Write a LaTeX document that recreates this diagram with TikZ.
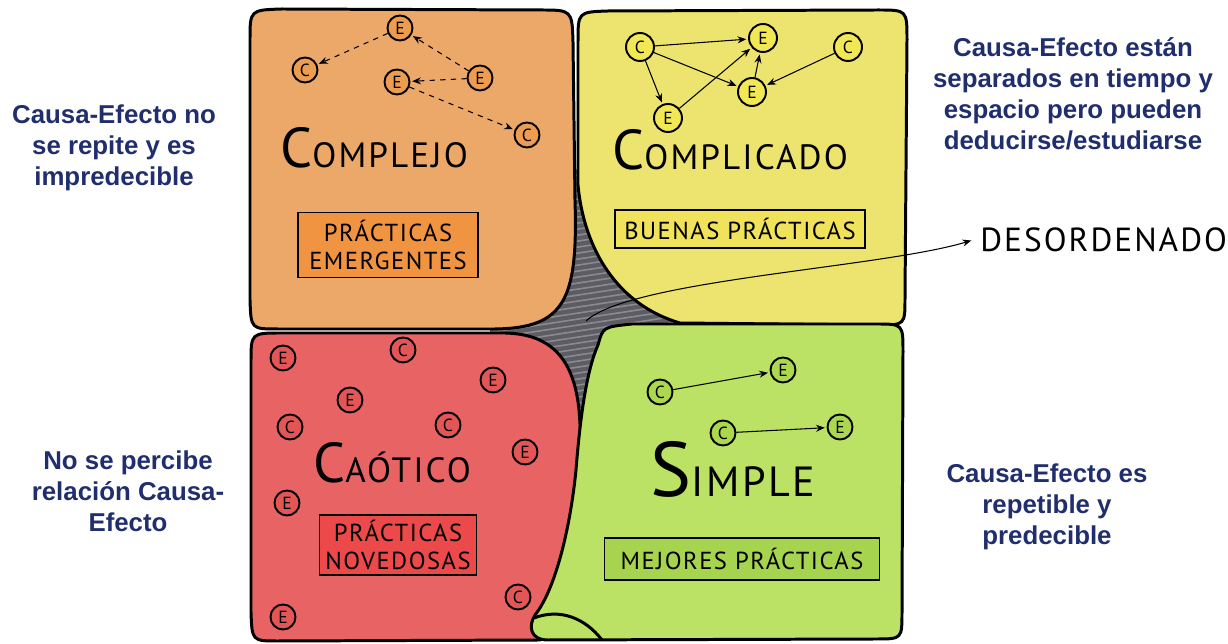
\documentclass[tikz,border=0pt]{standalone}
\usepackage{fontspec}
\setmainfont{Liberation Sans}
\newfontfamily\hand[LetterSpace=6]{PT Sans}
\usetikzlibrary{arrows.meta}
\definecolor{ink}{RGB}{32, 46, 110}
\definecolor{cxback}{RGB}{235, 168, 104}
\definecolor{cxbox}{RGB}{240, 148, 66}
\definecolor{cxdot}{RGB}{238, 156, 80}
\definecolor{cdback}{RGB}{237, 228, 112}
\definecolor{cdbox}{RGB}{240, 226, 90}
\definecolor{cddot}{RGB}{242, 232, 86}
\definecolor{chback}{RGB}{232, 100, 100}
\definecolor{chbox}{RGB}{236, 74, 74}
\definecolor{chdot}{RGB}{226, 86, 86}
\definecolor{smback}{RGB}{187, 226, 100}
\definecolor{smbox}{RGB}{166, 212, 78}
\definecolor{smdot}{RGB}{172, 216, 80}
\definecolor{smudge}{RGB}{92, 92, 98}
\definecolor{hatch}{RGB}{138, 138, 145}
\newcommand\bigfirst[4]{{\fontsize{#1}{#1}\selectfont #2}{\fontsize{#3}{#3}\selectfont #4}}

\begin{document}
\begin{tikzpicture}[x=0.02cm, y=-0.02cm,
  region/.style={line width=1.7pt, line join=round},
  cnode/.style={circle, draw, line width=1.1pt, minimum size=0.5cm, inner sep=0pt,
    font=\hand\fontsize{10}{10}\selectfont},
  link/.style={-{Stealth[length=5pt, width=4pt]}, line width=0.6pt, shorten >=1pt},
  plate/.style={draw, line width=1.1pt, inner sep=2pt, align=center,
    font=\hand\fontsize{14}{16}\selectfont},
  title/.style={anchor=base west, inner sep=0pt, font=\hand},
  note/.style={ink, align=center, font=\bfseries\fontsize{14.7}{17.6}\selectfont}]
  \useasboundingbox (0, 0) rectangle (1228, 644);

  \fill[smudge] (490, 170) rectangle (700, 420);
  \begin{scope}
    \clip (490, 170) rectangle (700, 420);
    \foreach \k in {0, ..., 50} {
      \draw[hatch, line width=0.9pt] (480, 160 + 6 * \k) -- (710, 125 + 6 * \k);
    }
  \end{scope}

  \draw[region, fill=cxback] (250, 40) .. controls (250, 10) .. (282, 9) -- (540, 10)
    .. controls (572, 10) .. (573, 42) -- (575, 200)
    .. controls (578, 300) and (565, 328) .. (495, 329) -- (278, 329)
    .. controls (251, 329) .. (250, 300) -- cycle;
  \draw[region, fill=cdback] (578, 42) .. controls (578, 12) .. (608, 11) -- (878, 10)
    .. controls (907, 10) .. (907, 40) -- (905, 298)
    .. controls (905, 325) .. (878, 325) -- (680, 323)
    .. controls (618, 305) and (584, 250) .. (578, 185) -- cycle;
  \draw[region, fill=chback] (251, 362) .. controls (251, 333) .. (282, 333) -- (505, 333)
    .. controls (552, 334) and (574, 360) .. (579, 410)
    .. controls (588, 520) and (570, 615) .. (540, 640) -- (278, 641)
    .. controls (252, 641) .. (251, 612) -- cycle;
  \draw[region, fill=smback] (598, 345) .. controls (603, 327) .. (632, 324) -- (876, 324)
    .. controls (903, 324) .. (903, 352) -- (902, 612)
    .. controls (902, 639) .. (876, 639) -- (548, 640)
    .. controls (530, 640) and (528, 626) .. (535, 615)
    .. controls (555, 590) and (570, 530) .. (576, 470)
    .. controls (580, 420) and (586, 372) .. (598, 345) -- cycle;
  \draw[region] (534, 618) .. controls (560, 608) and (585, 618) .. (602, 640);

  % complejo
  \node[cnode, fill=cxdot] (oe1) at (400, 28) {E};
  \node[cnode, fill=cxdot] (oc1) at (305, 70) {C};
  \node[cnode, fill=cxdot] (oe2) at (397, 82) {E};
  \node[cnode, fill=cxdot] (oe3) at (480, 78) {E};
  \node[cnode, fill=cxdot] (oc2) at (527, 135) {C};
  \draw[link, dashed] (oe1) -- (oc1);
  \draw[link, dashed] (oe3) -- (oe1);
  \draw[link, dashed] (oe3) -- (oe2);
  \draw[link, dashed] (oe2) -- (oc2);
  \node[title] (complejo) at (280, 168) {\bigfirst{32}{C}{20}{OMPLEJO}};
  \node[plate, fill=cxbox, minimum width=3.6cm, minimum height=1.3cm] (cxplate)
    at (388, 245) {PRÁCTICAS\\EMERGENTES};

  % complicado
  \node[cnode, fill=cddot, minimum size=0.56cm] (yc1) at (640, 47) {C};
  \node[cnode, fill=cddot, minimum size=0.56cm] (ye1) at (763, 38) {E};
  \node[cnode, fill=cddot, minimum size=0.56cm] (yc2) at (848, 47) {C};
  \node[cnode, fill=cddot, minimum size=0.56cm] (ye2) at (752, 92) {E};
  \node[cnode, fill=cddot, minimum size=0.56cm] (ye3) at (668, 118) {E};
  \draw[link] (yc1) -- (ye1);
  \draw[link] (yc1) -- (ye2);
  \draw[link] (yc1) -- (ye3);
  \draw[link] (ye3) -- (ye1);
  \draw[link] (ye2) -- (ye1);
  \draw[link] (yc2) -- (ye2);
  \node[title] (complicado) at (612, 170) {\bigfirst{32}{C}{20}{OMPLICADO}};
  \node[plate, fill=cdbox, minimum width=5cm, minimum height=0.76cm] (cdplate)
    at (740, 229) {BUENAS PRÁCTICAS};

  % caotico
  \foreach \n/\x/\y/\t in {1/283/358/E, 2/403/350/C, 3/493/380/E, 4/350/400/E,
      5/290/427/C, 6/448/425/C, 7/525/452/E, 8/287/503/E, 9/518/597/C, 10/283/617/E} {
    \node[cnode, fill=chdot] (rd\n) at (\x, \y) {\t};
  }
  \node[title] (caotico) at (313, 483) {\bigfirst{32}{C}{20}{AÓTICO}};
  \node[plate, fill=chbox, minimum width=3.14cm, minimum height=1.2cm] (chplate)
    at (398, 545) {PRÁCTICAS\\NOVEDOSAS};

  % simple
  \node[cnode, fill=smdot] (gc1) at (660, 392) {C};
  \node[cnode, fill=smdot] (ge1) at (783, 370) {E};
  \node[cnode, fill=smdot] (gc2) at (723, 433) {C};
  \node[cnode, fill=smdot] (ge2) at (840, 427) {E};
  \draw[link] (gc1) -- (ge1);
  \draw[link] (gc2) -- (ge2);
  \node[title] (simple) at (650, 497) {\bigfirst{44}{S}{24}{IMPLE}};
  \node[plate, fill=smbox, minimum width=5.5cm, minimum height=0.84cm] (smplate)
    at (742, 559) {MEJORES PRÁCTICAS};

  % desordenado
  \coordinate (dstart) at (586, 321);
  \node[anchor=west, inner sep=0pt, font=\hand\fontsize{19}{19}\selectfont] (desord)
    at (980, 240) {DESORDENADO};
  \draw[link] (dstart) .. controls (630, 280) and (880, 268) .. ([xshift=-4pt]desord.west);

  \node[note] (cxnote) at (114, 148) {Causa-Efecto no\\se repite y es\\impredecible};
  \node[note] (cdnote) at (1073, 94)
    {Causa-Efecto están\\separados en tiempo y\\espacio pero pueden\\deducirse/estudiarse};
  \node[note] (chnote) at (128, 491) {No se percibe\\relación Causa-\\Efecto};
  \node[note] (smnote) at (1047, 507) {Causa-Efecto es\\repetible y\\predecible};
\end{tikzpicture}
\end{document}
